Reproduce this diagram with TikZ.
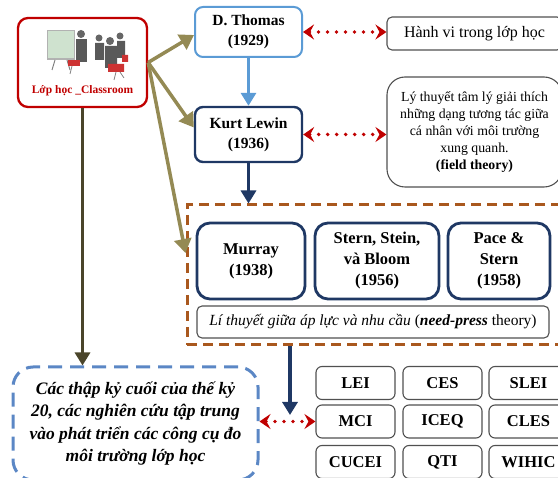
\documentclass[tikz,border=0pt]{standalone}
\usepackage{fontspec}
\setmainfont{Liberation Serif}
\usepackage{tikz}
\usetikzlibrary{positioning,arrows.meta}
\definecolor{classred}{HTML}{C00000}
\definecolor{skyline}{HTML}{5B9BD5}
\definecolor{navyline}{HTML}{1F3864}
\definecolor{olive}{HTML}{948A54}
\definecolor{darkolive}{HTML}{4A452A}
\definecolor{rust}{HTML}{A9581E}
\definecolor{dashblue}{HTML}{5B87C5}
\definecolor{boxgrey}{HTML}{505050}

\begin{document}
\begin{tikzpicture}[x=1pt,y=-1pt,
	box/.style={draw, inner sep=0pt, align=center},
	authorbox/.style={box, line width=2pt, rounded corners=8pt, minimum width=107pt, font=\bfseries\fontsize{15.5}{20}\selectfont},
	studybox/.style={box, draw=navyline, line width=2.8pt, rounded corners=13pt, minimum height=76pt, font=\bfseries\fontsize{16.5}{21}\selectfont},
	instbox/.style={box, draw=boxgrey, line width=1.1pt, rounded corners=6pt, minimum width=79pt, minimum height=33pt, font=\bfseries\fontsize{16.5}{20}\selectfont},
	notebox/.style={box, draw=boxgrey, line width=1.1pt, minimum width=175pt},
	linkarrow/.style={draw=olive, line width=3.5pt, -{Triangle[length=14pt,width=17pt]}},
	downarrow/.style={line width=3.5pt, -{Triangle[length=13pt,width=15pt]}},
	dotarrow/.style={draw=classred, line width=3.8pt, line cap=round, dash pattern=on 0pt off 9pt,
		{Stealth[length=11pt,width=15pt,inset=4pt]}-{Stealth[length=11pt,width=15pt,inset=4pt]}}]
		\useasboundingbox (0,0) rectangle (558,478);
		\clip (0,0) rectangle (558,478);

		\node[box, draw=classred, line width=2.3pt, rounded corners=10pt, minimum width=129pt, minimum height=89pt] (classroom) at (82.5,62.5) {};
		\fill[gray!60] (47,30) rectangle (75,60);
		\fill[green!25!gray!30] (48,31) rectangle (74,58);
		\draw[gray, line width=1pt] (55,60) -- (52,70) (67,60) -- (70,70);
		\fill[gray!80!black] (81,34) circle (4);
		\fill[gray!70!black] (76,39) rectangle (87,62);
		\fill[classred!80] (68,60) rectangle (80,66);
		\fill[gray!80!black] (99,38) circle (3.5) (110,41) circle (4) (120,36) circle (3.5);
		\fill[gray!70!black] (95,43) rectangle (104,60) (105,46) rectangle (117,68) (117,41) rectangle (125,58);
		\fill[classred!80] (108,64) rectangle (124,72) (122,55) rectangle (128,62);
		\draw[gray, line width=0.8pt] (72,66) -- (70,74) (116,72) -- (114,80) (120,72) -- (124,78);
		\node[text=classred, font=\bfseries\fontsize{11.5}{14}\selectfont] (classlabel) at (82.5,91) {Lớp học \_Classroom};

		\node[authorbox, draw=skyline, minimum height=50pt] (thomas) at (248.5,32) {D. Thomas\\(1929)};
		\node[authorbox, draw=navyline, line width=2.4pt, minimum height=55pt] (lewin) at (248.5,134.5) {Kurt Lewin\\(1936)};

		\node[notebox, rounded corners=5pt, minimum height=33pt, font=\fontsize{16}{19}\selectfont] (behaviour) at (474.5,33.5) {Hành vi trong lớp học};
		\node[notebox, rounded corners=18pt, minimum height=110pt, font=\fontsize{13.8}{17}\selectfont] (field) at (474.5,132)
			{Lý thuyết tâm lý giải thích\\những dạng tương tác giữa\\cá nhân với môi trường\\xung quanh.\\\textbf{(field theory)}};

		\node[box, draw=rust, line width=3pt, dash pattern=on 10pt off 6pt, minimum width=413pt, minimum height=140pt] (theory) at (393.5,275) {};
		\node[studybox, minimum width=108pt] (murray) at (251,261) {Murray\\(1938)};
		\node[studybox, minimum width=124pt] (stern) at (377,261) {Stern, Stein,\\và Bloom\\(1956)};
		\node[studybox, minimum width=102pt] (pace) at (499,261) {Pace \&\\Stern\\(1958)};
		\node[box, draw=boxgrey, line width=1.1pt, rounded corners=5pt, minimum width=352pt, minimum height=32pt, font=\fontsize{15.5}{18}\selectfont] (needpress) at (373,322)
			{\textit{Lí thuyết giữa áp lực và nhu cầu} (\textbf{\textit{need-press}} theory)};

		\node[box, draw=dashblue, line width=3pt, dash pattern=on 14pt off 8pt, rounded corners=20pt, minimum width=245pt, minimum height=113pt, font=\bfseries\itshape\fontsize{17.5}{22.5}\selectfont] (decades) at (135.5,423.5)
			{Các thập kỷ cuối của thế kỷ\\20, các nghiên cứu tập trung\\vào phát triển các công cụ đo\\môi trường lớp học};

		\foreach \name/\x/\y in {LEI/355.5/383, CES/442.5/383, SLEI/528.5/383,
			MCI/355.5/421.5, ICEQ/442.5/421.5, CLES/528.5/421.5,
			CUCEI/355.5/462, QTI/442.5/462, WIHIC/528.5/462}{
			\node[instbox] (\name) at (\x,\y) {\name};
		}

		\draw[linkarrow] (classroom.east) -- ([yshift=-3pt]thomas.west);
		\draw[linkarrow] (classroom.east) -- ([yshift=7pt]lewin.west);
		\draw[linkarrow] (classroom.east) -- ([yshift=22pt]theory.west);
		\draw[downarrow, draw=darkolive] (classroom.south) -- (classroom.south |- decades.north);
		\draw[downarrow, draw=skyline] (thomas.south) -- (lewin.north);
		\draw[downarrow, draw=navyline] (lewin.south) -- (lewin.south |- theory.north);
		\coordinate (drop) at (290,415);
		\draw[downarrow, draw=navyline] (theory.south -| drop) -- (drop);

		\draw[dotarrow] (thomas.east) -- (thomas.east -| behaviour.west);
		\draw[dotarrow] (lewin.east) -- (lewin.east -| field.west);
		\draw[dotarrow] (decades.east |- MCI.west) -- (MCI.west);
		\end{tikzpicture}
\end{document}
